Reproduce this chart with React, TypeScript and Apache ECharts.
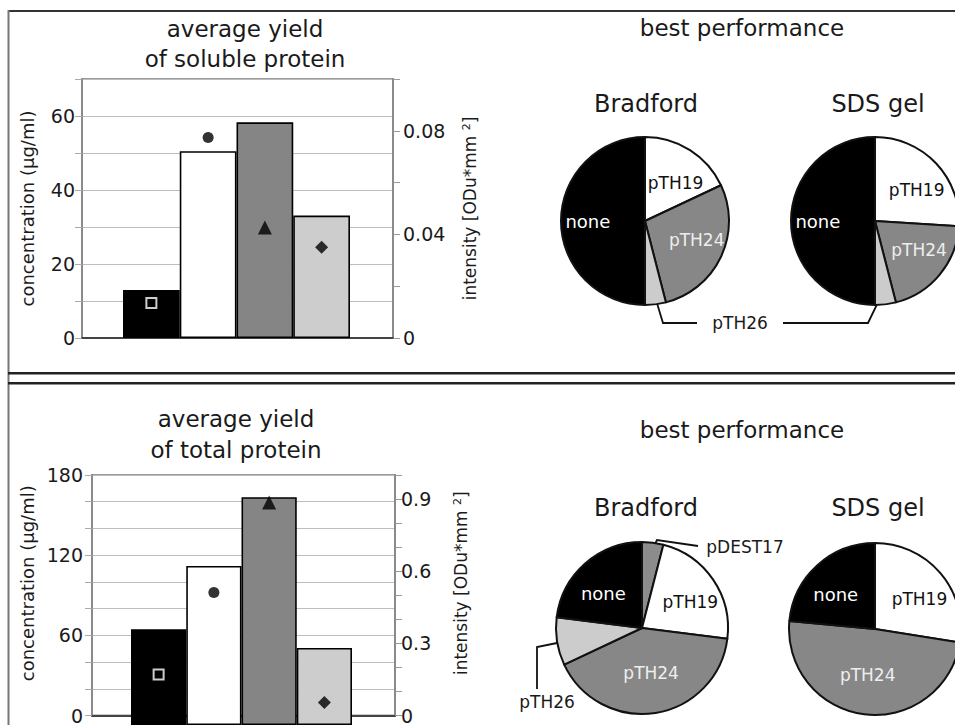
import React, { useEffect, useRef } from 'react';
import * as echarts from 'echarts';

// ---------- data ----------
const barCategories = ['pDEST17', 'pTH19', 'pTH24', 'pTH26'];
const barColors = ['#000000', '#ffffff', '#858585', '#cdcdcd'];
const markerSymbols = ['rect', 'circle', 'triangle', 'diamond'];

const solubleConcentration = [13.0, 50.5, 58.3, 33.1];
const solubleIntensity = [0.0135, 0.0774, 0.0427, 0.035];
const totalConcentration = [69, 114.5, 164, 55.5];
const totalIntensity = [0.202, 0.53, 0.89, 0.09];

const solubleConcLabels = [0, 20, 40, 60];
const solubleIntLabels = [0, 0.04, 0.08];
const totalConcLabels = [0, 60, 120, 180];
const totalIntLabels = [0, 0.3, 0.6, 0.9];

const solubleBradfordNames = ['pTH19', 'pTH24', 'pTH26', 'none'];
const solubleBradfordValues = [18, 28, 4, 50];
const solubleSdsNames = ['pTH19', 'pTH24', 'pTH26', 'none'];
const solubleSdsValues = [26, 20, 4, 50];
const totalBradfordNames = ['pDEST17', 'pTH19', 'pTH24', 'pTH26', 'none'];
const totalBradfordValues = [4, 23, 41, 9, 23];
const totalSdsNames = ['pTH19', 'pTH24', 'none'];
const totalSdsValues = [27.5, 49, 23.5];

// ---------- styles ----------
const FONT = 'DejaVu Sans';
const TEXT = '#1a1a1a';
const pieColors: Record<string, string> = {
  none: '#000000',
  pTH19: '#ffffff',
  pTH24: '#878787',
  pTH26: '#cccccc',
  pDEST17: '#8c8c8c',
};
const insideLabelColors: Record<string, string> = {
  none: '#ffffff',
  pTH19: '#111111',
  pTH24: '#eeeeee',
};
const markerSizes = [10, 11, 14, 13];
const markerStyles = [
  { color: '#000', borderColor: '#fff', borderWidth: 2 },
  { color: '#000' },
  { color: '#000' },
  { color: '#000' },
];

function labelFormatter(ticks: number[]) {
  return (v: number) => {
    const t = ticks.find((x) => Math.abs(x - v) < 1e-9);
    return t === undefined ? '' : String(t);
  };
}

type Panel = {
  frame: { left: number; top: number; width: number; height: number };
  bars: { left: number; width: number };
  leftMax: number;
  leftInterval: number;
  leftLabels: number[];
  rightMax: number;
  rightInterval: number;
  rightLabels: number[];
  conc: number[];
  intensity: number[];
  leftMargin: number;
  rightMargin: number;
  leftNameGap: number;
  rightNameGap: number;
  namePad: number;
  labelPadL: number;
  labelPadR: number;
};

function buildPanel(p: Panel, gi: number) {
  const gFrame = gi;
  const gBars = gi + 1;
  const grids = [
    {
      left: p.frame.left,
      top: p.frame.top,
      width: p.frame.width,
      height: p.frame.height,
      show: true,
      borderColor: '#9a9a9a',
      borderWidth: 2,
      backgroundColor: 'transparent',
    },
    {
      left: p.bars.left,
      top: p.frame.top,
      width: p.bars.width,
      height: p.frame.height,
      show: false,
    },
  ];
  const xAxes = [
    {
      gridIndex: gFrame,
      type: 'value',
      min: 0,
      max: 1,
      axisLine: { show: true, onZero: false, lineStyle: { color: '#444', width: 2 } },
      axisTick: { show: false },
      axisLabel: { show: false },
      splitLine: { show: false },
    },
    {
      gridIndex: gBars,
      type: 'category',
      data: barCategories,
      show: false,
    },
  ];
  const yAxes = [
    {
      gridIndex: gFrame,
      type: 'value',
      position: 'left',
      min: 0,
      max: p.leftMax,
      interval: p.leftInterval,
      name: 'concentration (µg/ml)',
      nameLocation: 'middle',
      nameRotate: 90,
      nameGap: p.leftNameGap,
      nameTextStyle: { fontSize: 18, color: TEXT, fontFamily: FONT, padding: [0, 0, 0, p.namePad] },
      axisLine: { show: true, lineStyle: { color: '#8a8a8a', width: 2 } },
      axisTick: { show: true, inside: false, length: 7, lineStyle: { color: '#aaaaaa', width: 1 } },
      axisLabel: {
        fontSize: 19,
        color: TEXT,
        fontFamily: FONT,
        margin: p.leftMargin,
        padding: [0, 0, p.labelPadL, 0],
        formatter: labelFormatter(p.leftLabels),
      },
      splitLine: { show: true, lineStyle: { color: '#bdbdbd', width: 1 } },
    },
    {
      gridIndex: gFrame,
      type: 'value',
      position: 'right',
      min: 0,
      max: p.rightMax,
      interval: p.rightInterval,
      name: 'intensity [ODu*mm {sup|2}]',
      nameLocation: 'middle',
      nameRotate: 90,
      nameGap: p.rightNameGap,
      nameTextStyle: {
        fontSize: 17,
        color: TEXT,
        fontFamily: FONT,
        padding: [0, 0, 0, p.namePad],
        rich: { sup: { fontSize: 11, fontFamily: FONT, color: TEXT, verticalAlign: 'top', lineHeight: 11 } },
      },
      axisLine: { show: true, lineStyle: { color: '#8a8a8a', width: 2 } },
      axisTick: { show: true, inside: false, length: 7, lineStyle: { color: '#999999', width: 1 } },
      axisLabel: {
        fontSize: 19,
        color: TEXT,
        fontFamily: FONT,
        margin: p.rightMargin,
        padding: [0, 0, p.labelPadR, 0],
        formatter: labelFormatter(p.rightLabels),
      },
      splitLine: { show: false },
    },
    { gridIndex: gBars, type: 'value', min: 0, max: p.leftMax, show: false },
    { gridIndex: gBars, type: 'value', min: 0, max: p.rightMax, show: false },
  ];
  return { grids, xAxes, yAxes };
}

function panelSeries(p: Panel, xBase: number, yBase: number) {
  return [
    {
      type: 'bar',
      xAxisIndex: xBase + 1,
      yAxisIndex: yBase + 2,
      barCategoryGap: '0%',
      silent: true,
      itemStyle: { borderColor: '#000', borderWidth: 1.6 },
      data: p.conc.map((v, i) => ({ value: v, itemStyle: { color: barColors[i] } })),
    },
    {
      type: 'scatter',
      xAxisIndex: xBase + 1,
      yAxisIndex: yBase + 3,
      silent: true,
      z: 5,
      data: p.intensity.map((v, i) => ({
        value: [barCategories[i], v],
        symbol: markerSymbols[i],
        symbolSize: markerSizes[i],
        itemStyle: markerStyles[i],
      })),
    },
  ];
}

// the original pies are horizontally stretched ellipses: push inside labels outward horizontally
const LABEL_PUSH_X = 0.27;

function pieSeries(names: string[], values: number[], center: number[], radius: number) {
  return {
    type: 'pie',
    center,
    radius,
    startAngle: 90,
    clockwise: true,
    silent: true,
    avoidLabelOverlap: false,
    label: { show: true, position: 'inside', fontSize: 17, fontFamily: FONT },
    labelLine: { show: false },
    labelLayout: (params: any) => {
      const r = params.labelRect;
      if (!r) return {};
      const cx = r.x + r.width / 2;
      return { dx: (cx - center[0]) * LABEL_PUSH_X, dy: 0 };
    },
    itemStyle: { borderColor: '#111', borderWidth: 2 },
    data: names.map((n, i) => ({
      name: n,
      value: values[i],
      itemStyle: { color: pieColors[n] },
      label: insideLabelColors[n]
        ? { show: true, color: insideLabelColors[n], fontSize: n === 'none' ? 18 : 17 }
        : { show: false },
    })),
  };
}

function text(x: number, y: number, t: string, fontSize: number, extra: any = {}) {
  return {
    type: 'text',
    x,
    y,
    silent: true,
    style: {
      text: t,
      fontSize,
      fontFamily: FONT,
      fill: TEXT,
      align: 'center',
      verticalAlign: 'middle',
      ...extra,
    },
  };
}

function line(x1: number, y1: number, x2: number, y2: number, stroke: string, w: number) {
  return { type: 'line', silent: true, shape: { x1, y1, x2, y2 }, style: { stroke, lineWidth: w } };
}

function poly(points: number[][]) {
  return { type: 'polyline', silent: true, shape: { points }, style: { stroke: '#111', lineWidth: 1.8, fill: 'none' } };
}

function buildOption() {
  const top: Panel = {
    frame: { left: 82, top: 79, width: 311, height: 259 },
    bars: { left: 123, width: 227 },
    leftMax: 70,
    leftInterval: 10,
    leftLabels: solubleConcLabels,
    rightMax: 0.1,
    rightInterval: 0.02,
    rightLabels: solubleIntLabels,
    conc: solubleConcentration,
    intensity: solubleIntensity,
    leftMargin: 7,
    rightMargin: 10,
    leftNameGap: 46,
    rightNameGap: 68,
    namePad: 0,
    labelPadL: 8,
    labelPadR: 7,
  };
  const bottom: Panel = {
    frame: { left: 92, top: 475, width: 303, height: 250 },
    bars: { left: 131, width: 221 },
    leftMax: 180,
    leftInterval: 20,
    leftLabels: totalConcLabels,
    rightMax: 1,
    rightInterval: 0.1,
    rightLabels: totalIntLabels,
    conc: totalConcentration,
    intensity: totalIntensity,
    leftMargin: 9,
    rightMargin: 6,
    leftNameGap: 56,
    rightNameGap: 57,
    namePad: 24,
    labelPadL: 4,
    labelPadR: 7,
  };
  const a = buildPanel(top, 0);
  const b = buildPanel(bottom, 2);

  const graphic = [
    line(8, 11, 955, 11, '#333', 2),
    line(8.5, 10, 8.5, 725, '#777', 2),
    line(8, 373.3, 955, 373.3, '#222', 2.5),
    line(8, 383.3, 955, 383.3, '#222', 2.5),
    text(245, 44, 'average yield\nof soluble protein', 23, { lineHeight: 30 }),
    text(236, 434, 'average yield\nof total protein', 23, { lineHeight: 31 }),
    text(742, 28, 'best performance', 23),
    text(742, 430, 'best performance', 23),
    text(646, 104, 'Bradford', 24),
    text(878, 104, 'SDS gel', 24),
    text(646, 508, 'Bradford', 24),
    text(878, 508, 'SDS gel', 24),
    // shared pTH26 label (soluble)
    text(740, 323, 'pTH26', 17),
    poly([[653, 290], [663, 323], [697, 323]]),
    poly([[783, 323], [868, 323], [883, 292]]),
    // total Bradford outside labels
    text(745, 547, 'pDEST17', 17),
    poly([[650, 554], [657, 540], [698, 546]]),
    text(547, 702, 'pTH26', 17),
    poly([[557, 643], [537, 647], [537, 689]]),
  ];

  return {
    animation: false,
    backgroundColor: '#ffffff',
    textStyle: { fontFamily: FONT },
    grid: [...a.grids, ...b.grids],
    xAxis: [...a.xAxes, ...b.xAxes],
    yAxis: [...a.yAxes, ...b.yAxes],
    series: [
      ...panelSeries(top, 0, 0),
      ...panelSeries(bottom, 2, 4),
      pieSeries(solubleBradfordNames, solubleBradfordValues, [645, 221], 84),
      pieSeries(solubleSdsNames, solubleSdsValues, [875, 221], 84),
      pieSeries(totalBradfordNames, totalBradfordValues, [642, 628], 86),
      pieSeries(totalSdsNames, totalSdsValues, [875, 629], 86),
    ],
    graphic,
  };
}

export default function App() {
  const ref = useRef<HTMLDivElement>(null);
  useEffect(() => {
    if (!ref.current) return;
    const chart = echarts.init(ref.current, undefined, { renderer: 'svg' });
    chart.setOption(buildOption() as any);
    return () => chart.dispose();
  }, []);
  return (
    <div
      ref={ref}
      style={{ position: 'fixed', left: 0, top: 0, width: 955, height: 725, background: '#fff' }}
    />
  );
}
